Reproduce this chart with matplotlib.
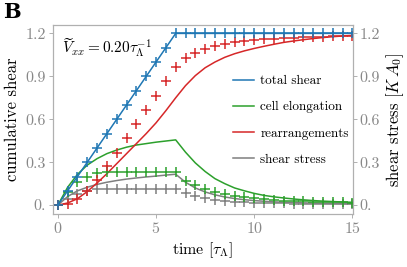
import matplotlib
matplotlib.use("Agg")
import matplotlib.pyplot as plt
import numpy as np

plt.rcParams['font.family'] = 'serif'
plt.rcParams['font.serif'] = ['cmr10', 'DejaVu Serif']
plt.rcParams['mathtext.fontset'] = 'cm'
plt.rcParams['axes.formatter.use_mathtext'] = True
plt.rcParams['axes.unicode_minus'] = False

# time grid (every 0.5 tau)
t = np.arange(0, 15.5, 0.5)

# simulation results (markers)
total_pts = [0.0, 0.1, 0.2, 0.3, 0.4, 0.5, 0.6, 0.7, 0.8, 0.9, 1.0, 1.1, 1.2,
             1.2, 1.2, 1.2, 1.2, 1.2, 1.2, 1.2, 1.2, 1.2, 1.2, 1.2, 1.2, 1.2,
             1.2, 1.2, 1.2, 1.2, 1.2]
elong_pts = [0.0, 0.09, 0.16, 0.2, 0.222, 0.23, 0.233, 0.234, 0.234, 0.234,
             0.234, 0.234, 0.234, 0.17, 0.14, 0.11, 0.09, 0.075, 0.063, 0.054,
             0.047, 0.041, 0.036, 0.032, 0.029, 0.026, 0.024, 0.022, 0.02,
             0.019, 0.018]
rearr_pts = [0.0, 0.01, 0.04, 0.1, 0.178, 0.27, 0.367, 0.466, 0.566, 0.666,
             0.766, 0.866, 0.966, 1.03, 1.06, 1.09, 1.11, 1.125, 1.137, 1.146,
             1.153, 1.159, 1.164, 1.168, 1.171, 1.174, 1.176, 1.178, 1.18,
             1.181, 1.182]
stress_pts = [0.0, 0.045, 0.08, 0.1, 0.11, 0.113, 0.113, 0.113, 0.113, 0.113,
              0.113, 0.113, 0.113, 0.083, 0.062, 0.048, 0.038, 0.031, 0.025,
              0.021, 0.018, 0.016, 0.014, 0.012, 0.011, 0.01, 0.009, 0.008,
              0.008, 0.008, 0.008]

# continuum model (lines)
total_t = [0, 6, 15]
total_line = [0.0, 1.2, 1.2]
elong_line = [0.0, 0.125, 0.215, 0.28, 0.325, 0.36, 0.385, 0.405, 0.42, 0.43,
              0.44, 0.448, 0.456, 0.37, 0.295, 0.235, 0.185, 0.15, 0.12, 0.1,
              0.082, 0.068, 0.058, 0.05, 0.043, 0.037, 0.032, 0.028, 0.025,
              0.022, 0.02]
rearr_line = [0.0, 0.015, 0.045, 0.095, 0.155, 0.22, 0.29, 0.36, 0.43, 0.5,
              0.575, 0.66, 0.75, 0.835, 0.905, 0.96, 1.0, 1.033, 1.058, 1.078,
              1.095, 1.11, 1.124, 1.137, 1.147, 1.156, 1.164, 1.171, 1.177,
              1.182, 1.186]
stress_line = [0.0, 0.06, 0.1, 0.125, 0.145, 0.16, 0.172, 0.182, 0.19, 0.197,
               0.203, 0.21, 0.216, 0.16, 0.12, 0.092, 0.072, 0.057, 0.046,
               0.038, 0.032, 0.027, 0.023, 0.02, 0.018, 0.016, 0.014, 0.013,
               0.012, 0.011, 0.01]

yticks = [0, 0.3, 0.6, 0.9, 1.2]
ytick_labels = ['0.', '0.3', '0.6', '0.9', '1.2']

blue = '#1f77b4'
green = '#2ca02c'
red = '#d62728'
gray = '#7f7f7f'
spine_col = '#b0b0b0'
tick_col = '#888888'

fig = plt.figure(figsize=(4.07, 2.67), dpi=100)
ax = fig.add_axes([0.130, 0.199, 0.737, 0.707])

ms = 7
mew = 1.1
lw = 1.1

ax.plot(t, stress_line, color=gray, lw=lw, label='shear stress', zorder=2)
ax.plot(t, stress_pts, '+', color=gray, ms=ms, mew=mew, zorder=3)
ax.plot(t, elong_line, color=green, lw=lw, label='cell elongation', zorder=2)
ax.plot(t, elong_pts, '+', color=green, ms=ms, mew=mew, zorder=3)
ax.plot(t, rearr_line, color=red, lw=lw, label='rearrangements', zorder=2)
ax.plot(t, rearr_pts, '+', color=red, ms=ms, mew=mew, zorder=3)
ax.plot(total_t, total_line, color=blue, lw=lw, label='total shear', zorder=4)
ax.plot(t, total_pts, '+', color=blue, ms=ms, mew=mew, zorder=4)

ax.set_xlim(-0.25, 15.02)
ax.set_ylim(-0.061, 1.258)
ax.set_xticks([0, 5, 10, 15])
ax.set_yticks(yticks)
ax.set_yticklabels(ytick_labels)

ax2 = ax.twinx()
ax2.set_ylim(ax.get_ylim())
ax2.set_yticks(yticks)
ax2.set_yticklabels(ytick_labels)

for a in (ax, ax2):
    for s in a.spines.values():
        s.set_color(spine_col)
        s.set_linewidth(0.8)
    a.tick_params(direction='out', length=3, width=0.7, color=spine_col,
                  labelcolor=tick_col, labelsize=11.5, pad=2)

ax.set_xlabel(r'time $[\tau_\Lambda]$', fontsize=11.5, labelpad=3)
ax.set_ylabel('cumulative shear', fontsize=12, labelpad=4)
ax2.set_ylabel(r'shear stress $[K\,A_0]$', fontsize=12, labelpad=3)

ax.text(0.2, 1.10, r'$\widetilde{V}_{xx} = 0.20\tau_\Lambda^{-1}$',
        fontsize=11, va='center', ha='left')

handles, labels = ax.get_legend_handles_labels()
order = [3, 1, 2, 0]
ax.legend([handles[i] for i in order], [labels[i] for i in order],
          loc='center left', bbox_to_anchor=(0.56, 0.495), frameon=False,
          fontsize=9.5, handlelength=1.6, handletextpad=0.5,
          labelspacing=1.05)

fig.text(0.008, 0.955, 'B', fontsize=15, fontweight='bold', va='center',
         ha='left', family='DejaVu Serif')

fig.savefig('out.png', dpi=100)
